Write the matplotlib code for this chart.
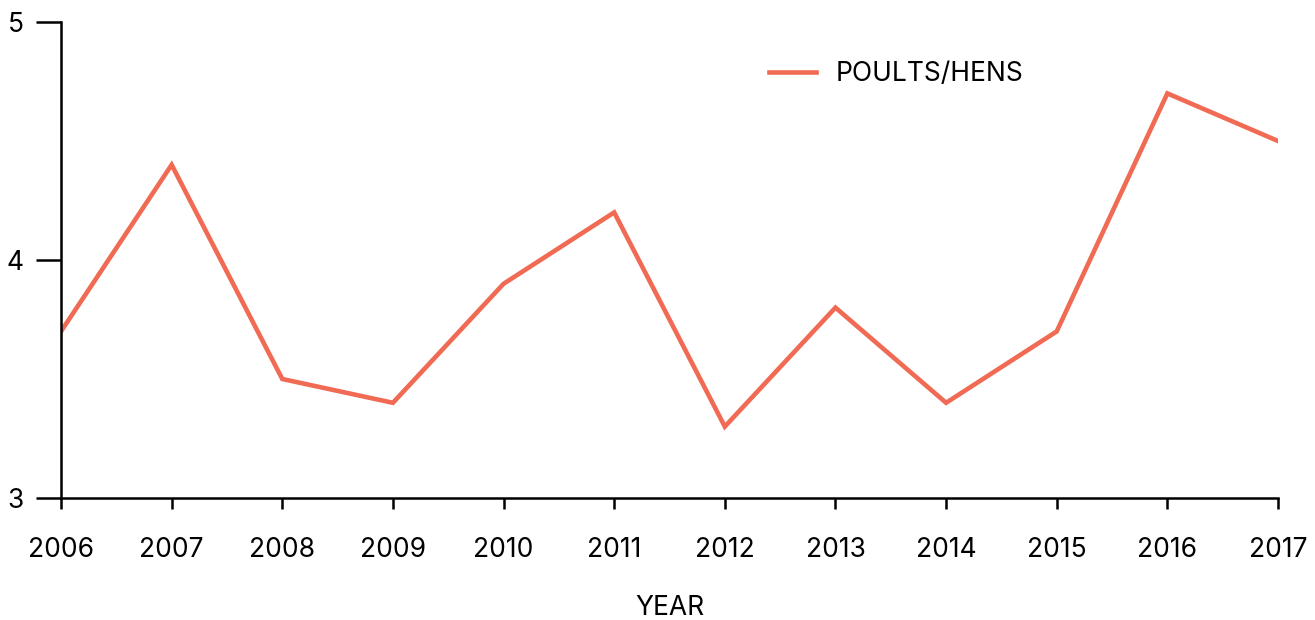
import matplotlib.pyplot as plt

years = [2006, 2007, 2008, 2009, 2010, 2011, 2012, 2013, 2014, 2015, 2016, 2017]
poults_per_hen = [3.7, 4.4, 3.5, 3.4, 3.9, 4.2, 3.3, 3.8, 3.4, 3.7, 4.7, 4.5]
y_ticks = [3, 4, 5]

plt.rcParams['font.family'] = ['Inter', 'DejaVu Sans']

fig = plt.figure(figsize=(13.15, 6.2), dpi=100)
ax = fig.add_axes([61 / 1315, 1 - 498 / 620, (1278 - 61) / 1315, (498 - 22) / 620])

ax.plot(years, poults_per_hen, color='#f06a54', linewidth=3.3, label='POULTS/HENS',
        solid_joinstyle='miter')

ax.set_xlim(years[0], years[-1])
ax.set_ylim(3, 5)
ax.set_xticks(years)
ax.set_yticks(y_ticks)

for side in ['top', 'right']:
    ax.spines[side].set_visible(False)
for side in ['left', 'bottom']:
    ax.spines[side].set_linewidth(1.8)

ax.tick_params(axis='y', length=18, width=1.8, pad=9, labelsize=19)
ax.tick_params(axis='x', length=8, width=1.8, pad=20, labelsize=19)
ax.set_xlabel('YEAR', fontsize=19, labelpad=23)

ax.legend(loc='upper left', bbox_to_anchor=(0.562, 0.967), frameon=False, fontsize=19,
          handlelength=1.8, handletextpad=0.75)

fig.savefig('out.png', dpi=100)
